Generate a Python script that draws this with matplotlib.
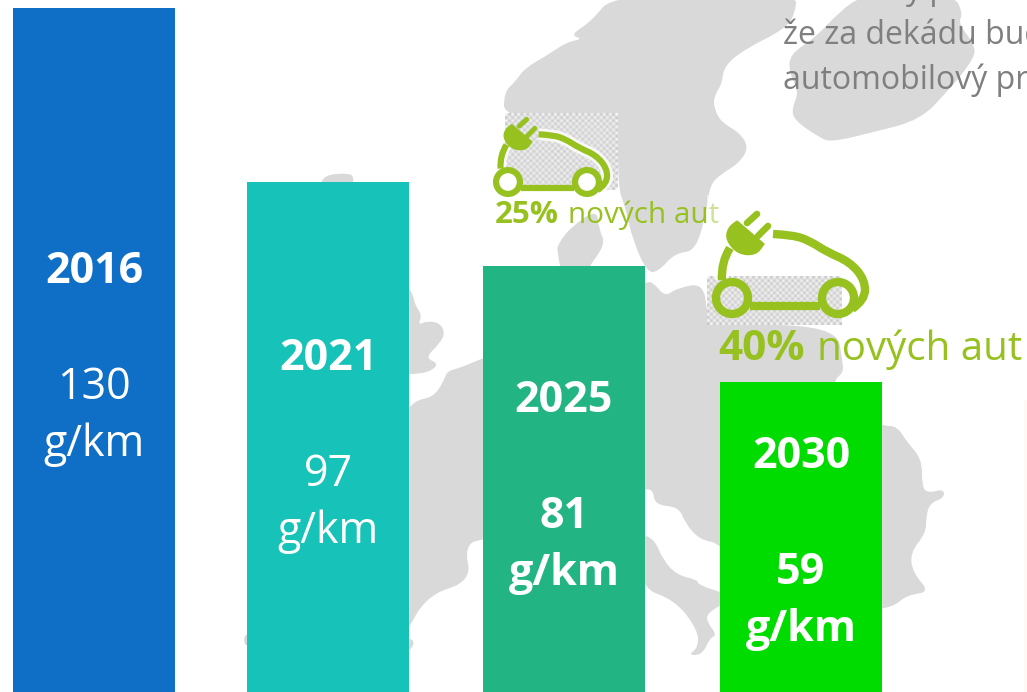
#!/usr/bin/env python3
# -*- coding: utf-8 -*-
import numpy as np
import matplotlib
matplotlib.use("Agg")
import matplotlib.pyplot as plt
import matplotlib.patheffects as pe
from matplotlib.path import Path
from matplotlib.patches import PathPatch, Circle, Rectangle

# data
years = ["2016", "2021", "2025", "2030"]
values = [130, 97, 81, 59]
unit = "g/km"
shares = ["25%", "40%"]
share_text = "nových aut"

# layout, pixels of the picture
W, H = 1027, 692
PX_PER_VALUE = 5.26
bar_x = [94, 328, 564, 801]
bar_w = 162
bar_colors = ["#0F6FC6", "#17C2B8", "#22B583", "#00DC00"]
year_base = [283, 370, 412, 468]
value_bold = [False, False, True, True]

GREY = "#D9D9D9"
GREEN = "#96C11F"

plt.rcParams["font.family"] = ["Open Sans", "DejaVu Sans"]

# background map outlines
scandinavia = [(613, -6), (592, 21), (570, 35), (583, 39), (567, 42), (546, 56), (525, 68), (515, 82),
               (504, 92), (504, 119), (618, 119), (618, 188), (625, 206), (633, 241), (647, 272), (658, 272),
               (675, 253), (696, 251), (707, 209), (710, 185), (721, 174), (738, 164), (749, 148), (740, 133),
               (721, 122), (714, 108), (714, 96), (722, 84), (724, 66), (745, 49), (787, 28), (796, 10), (796, -6)]
finland = [(954, -6), (963, 14), (958, 23), (975, 45), (974, 59), (948, 91), (920, 120), (874, 132),
           (832, 142), (820, 138), (794, 120), (792, 108), (799, 92), (789, 72), (790, 54), (815, 38),
           (839, 12), (864, -6)]
denmark = [(558, 244), (571, 227), (597, 209), (599, 230), (606, 244), (585, 272), (584, 285), (564, 285),
           (557, 251)]
uk_top = [(320, 190), (323, 175), (350, 173), (354, 178), (352, 190)]
jutland = [(400, 288), (409, 288), (413, 295), (415, 305), (422, 315), (418, 325), (427, 321), (440, 323),
           (445, 333), (440, 343), (425, 358), (438, 363), (433, 370), (420, 374), (400, 374)]
continent = [(400, 412), (409, 408), (417, 400), (433, 397), (443, 383), (447, 371), (460, 368), (483, 358),
             (560, 330), (645, 282), (653, 282), (665, 297), (677, 288), (705, 283), (707, 325), (836, 325),
             (843, 363), (843, 373), (832, 382), (845, 410), (882, 426), (897, 426), (907, 442), (922, 459),
             (922, 487), (928, 493), (944, 489), (944, 498), (930, 503), (926, 517), (926, 533), (910, 553),
             (913, 573), (930, 592), (907, 595), (893, 607), (870, 610), (760, 590), (720, 543), (700, 540),
             (685, 523), (679, 507), (655, 505), (653, 490), (645, 489), (600, 500), (483, 540), (470, 542),
             (466, 555), (470, 572), (460, 585), (437, 592), (420, 607), (409, 628), (400, 640)]
italy = [(640, 533), (655, 540), (663, 560), (677, 575), (698, 580), (698, 585), (730, 595), (730, 600),
         (707, 613), (707, 622), (717, 635), (710, 638), (702, 655), (688, 655), (698, 648), (698, 630),
         (675, 600), (640, 588)]
iberia = [(300, 632), (247, 632), (243, 640), (247, 648), (300, 650)]
corner = [(400, 638), (409, 638), (415, 642), (409, 652), (400, 652)]

# car icon, relative to the centre of the left wheel
car_body = [(120, 11), (133, 2), (133, -18), (118, -36), (95, -46), (78, -57), (61, -63), (41, -64)]
car_back = [(-10, -18), (-11, -36), (-2, -50)]
car_plug = [(5, -77), (5, -77), (32, -54), (32, -54), (24, -43), (6, -44), (-6, -58), (-4, -70), (5, -77)]
car_prongs = [[(15, -75), (25, -84)], [(26, -62), (36, -72)]]
CAR_WHEELBASE = 106


def smooth_path(pts, closed=True):
    pts = np.array(pts, dtype=float)
    if closed:
        mids = (pts + np.roll(pts, -1, axis=0)) / 2
        verts = [mids[-1]]
        codes = [Path.MOVETO]
        for p, m in zip(pts, mids):
            verts += [p, m]
            codes += [Path.CURVE3, Path.CURVE3]
        return Path(verts, codes)
    verts = [pts[0]]
    codes = [Path.MOVETO]
    for i in range(1, len(pts) - 1):
        end = (pts[i] + pts[i + 1]) / 2 if i < len(pts) - 2 else pts[i + 1]
        verts += [pts[i], end]
        codes += [Path.CURVE3, Path.CURVE3]
    return Path(verts, codes)


def draw_car(ax, x0, y0, s, wheel_fill="none"):
    lw = 6.0 * s
    halo = [pe.withStroke(linewidth=lw + 4, foreground="white", alpha=0.8)]

    def place(pts):
        return [(x0 + px * s, y0 + py * s) for px, py in pts]

    for pts in (car_body, car_back):
        p = PathPatch(smooth_path(place(pts), closed=False), fill=False, ec=GREEN, lw=lw, capstyle="butt", zorder=5)
        p.set_path_effects(halo)
        ax.add_patch(p)
    ax.add_patch(PathPatch(smooth_path(place(car_plug)), fc=GREEN, ec=GREEN, lw=1, zorder=6))
    for pr in car_prongs:
        xy = np.array(place(pr))
        ax.plot(xy[:, 0], xy[:, 1], color=GREEN, lw=lw * 0.8, solid_capstyle="round", zorder=6)
    for wx in (0, CAR_WHEELBASE):
        ax.add_patch(Circle((x0 + wx * s, y0), 16 * s, fc=wheel_fill, ec=GREEN, lw=lw, zorder=5))
    ax.plot([x0 + 18 * s, x0 + 88 * s], [y0 + 8 * s, y0 + 8 * s], color=GREEN, lw=lw, solid_capstyle="butt", zorder=5)


def checker(ax, x0, y0, x1, y1, cell=3):
    ny, nx = int((y1 - y0) / cell), int((x1 - x0) / cell)
    grid = np.indices((ny, nx)).sum(axis=0) % 2
    img = np.where(grid[..., None] == 1, [0.78, 0.78, 0.78], [0.97, 0.97, 0.97])
    ax.imshow(img, extent=(x0, x1, y1, y0), aspect="auto", interpolation="bilinear", zorder=2)


fig = plt.figure(figsize=(W / 100, H / 100), dpi=100)
fig.patch.set_facecolor("white")

# map layer, y in pixels from the top
ax_map = fig.add_axes([0, 0, 1, 1], zorder=1)
for outline in (scandinavia, finland, denmark, uk_top, jutland, continent, italy, iberia, corner):
    ax_map.add_patch(PathPatch(smooth_path(outline), fc=GREY, ec="none", zorder=1))
checker(ax_map, 505, 113, 618, 190)
checker(ax_map, 707, 276, 842, 325)
draw_car(ax_map, 508, 182, 79 / CAR_WHEELBASE, wheel_fill="white")
draw_car(ax_map, 732, 298, 1.0)
ax_map.add_patch(Rectangle((1024, 400), 3, 292, fc="#FEF9F5", ec="none", zorder=1))
ax_map.set_xlim(0, W)
ax_map.set_ylim(H, 0)
ax_map.axis("off")

# bars, y in g/km
ax_bar = fig.add_axes([0, 0, 1, 1], zorder=2)
ax_bar.bar(bar_x, values, width=bar_w, color=bar_colors)
ax_bar.set_xlim(0, W)
ax_bar.set_ylim(0, H / PX_PER_VALUE)
ax_bar.axis("off")

# text layer
ax_txt = fig.add_axes([0, 0, 1, 1], zorder=3)
ax_txt.set_xlim(0, W)
ax_txt.set_ylim(H, 0)
ax_txt.axis("off")

for x, year, val, base, bold in zip(bar_x, years, values, year_base, value_bold):
    ax_txt.text(x, base, year, color="white", fontsize=31, fontweight="bold", ha="center", va="baseline")
    w = "bold" if bold else "normal"
    ax_txt.text(x, base + 116, str(val), color="white", fontsize=31, fontweight=w, ha="center", va="baseline")
    ax_txt.text(x, base + 173, unit, color="white", fontsize=31, fontweight=w, ha="center", va="baseline")

ax_txt.text(495, 223, shares[0], color=GREEN, fontsize=22.5, fontweight="bold", va="baseline")
ax_txt.text(568, 223, share_text, color=GREEN, fontsize=21.4, va="baseline")
ax_txt.add_patch(Rectangle((707, 195), 15, 32, fc="white", ec="none", alpha=0.55, zorder=4))
ax_txt.text(718, 360, shares[1], color=GREEN, fontsize=30.5, fontweight="bold", va="baseline")
ax_txt.text(817, 360, share_text, color=GREEN, fontsize=29, va="baseline")

ax_txt.text(783, 44, "že za dekádu bude", color="#7F7F7F", fontsize=23, va="baseline", clip_on=True)
ax_txt.text(783, 89, "automobilový průmysl", color="#7F7F7F", fontsize=23, va="baseline", clip_on=True)
ax_txt.text(905, -1, "y p", color="#7F7F7F", fontsize=23, va="baseline", clip_on=True)

fig.savefig("out.png", dpi=100)
